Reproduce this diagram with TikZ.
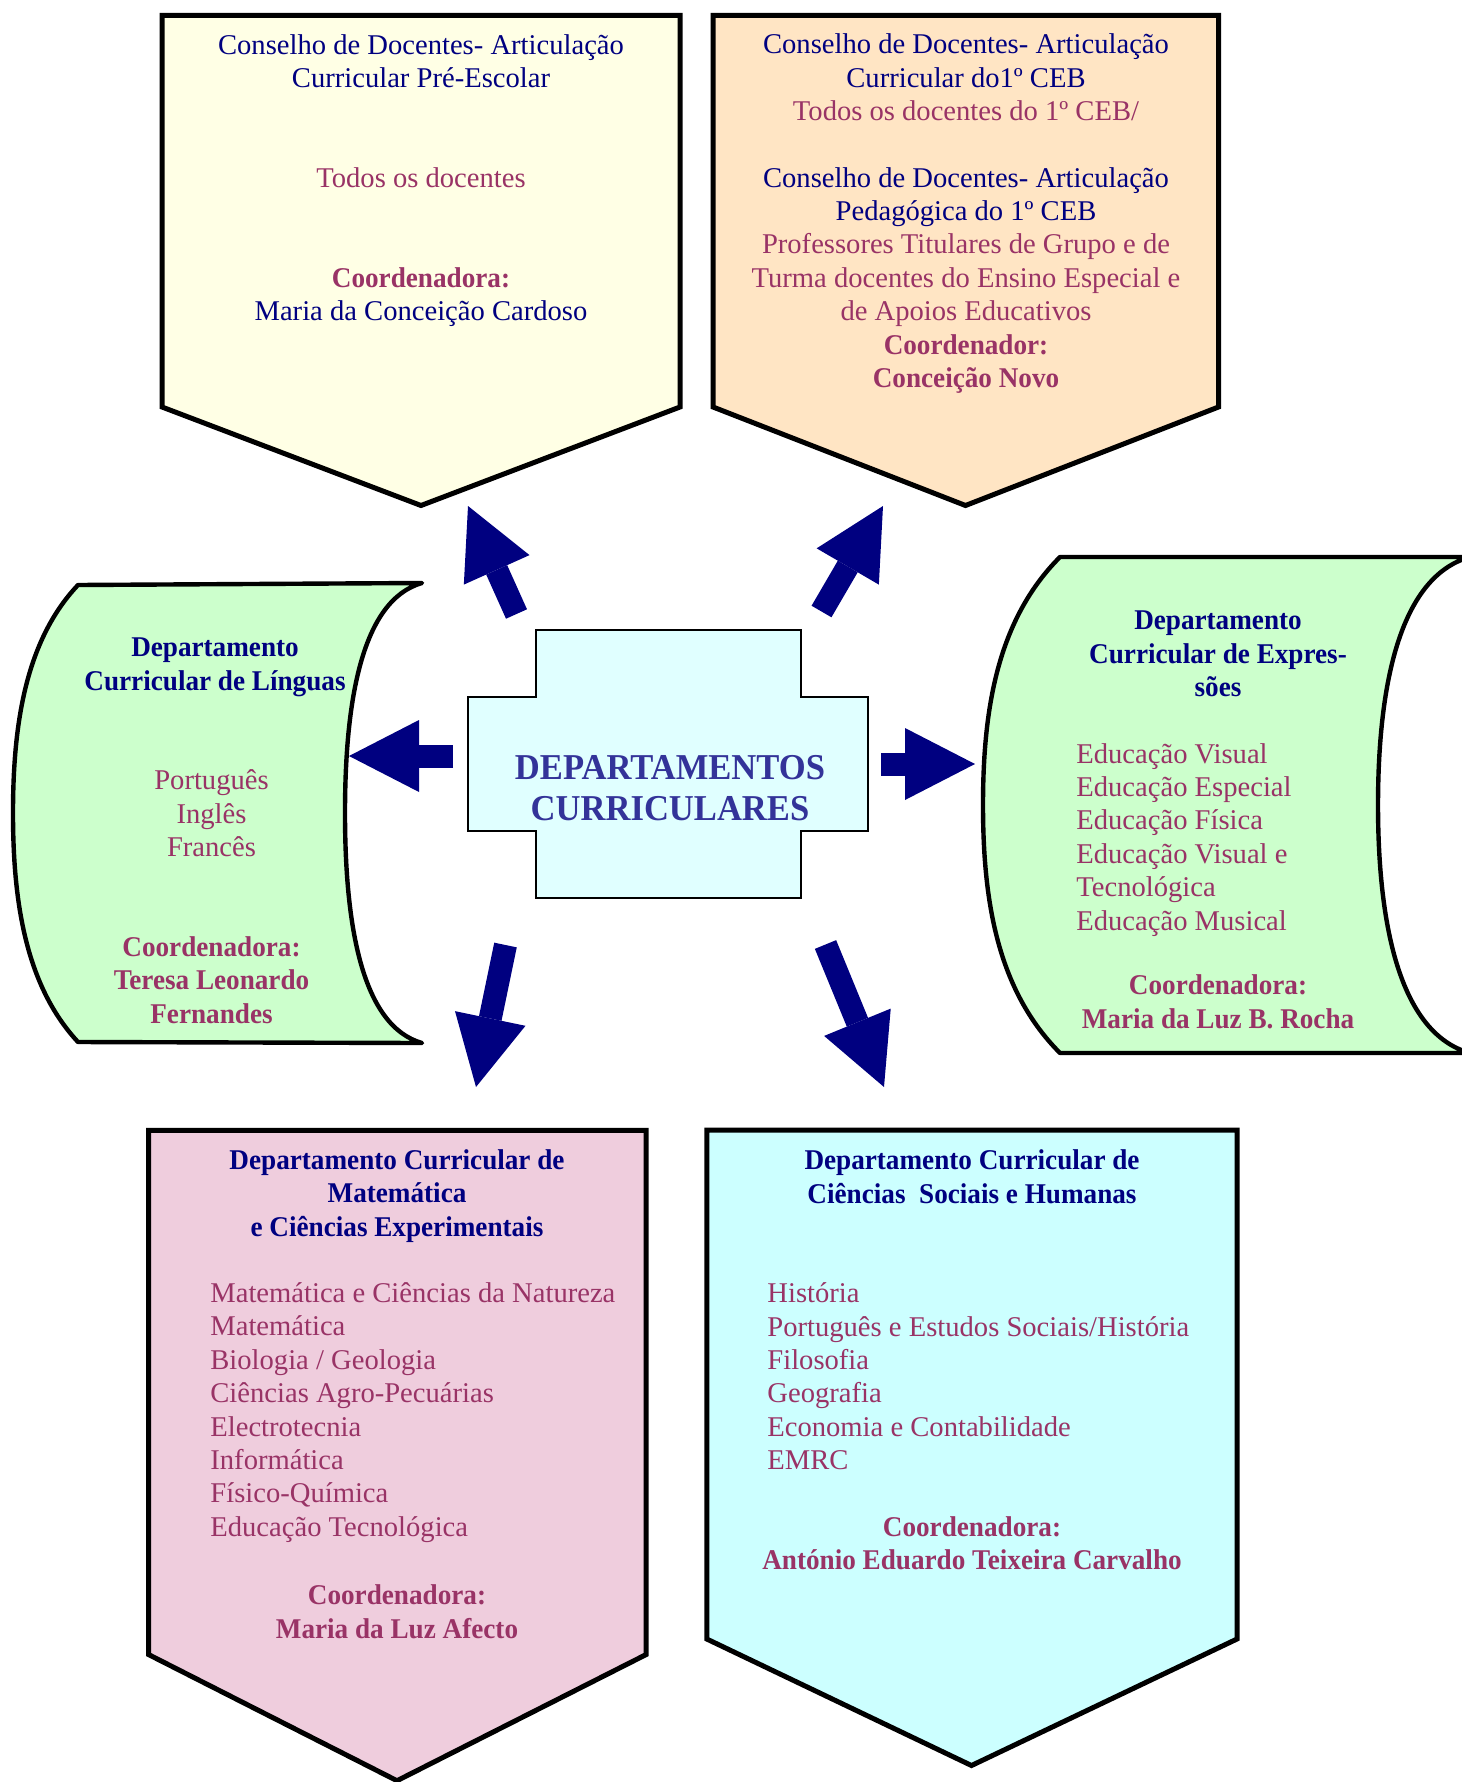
\documentclass[tikz,border=0pt]{standalone}
\usepackage{fontspec}
\setmainfont{Liberation Serif}[BoldFeatures={FakeStretch=0.95}]
\usetikzlibrary{arrows.meta}

\definecolor{navytext}{HTML}{000080}
\definecolor{plumtext}{HTML}{993366}
\definecolor{centretext}{HTML}{333399}
\definecolor{paleyellow}{HTML}{FFFFE5}
\definecolor{paletan}{HTML}{FFE5C4}
\definecolor{palegreen}{HTML}{CCFFCC}
\definecolor{palerose}{HTML}{EFCDDD}
\definecolor{paleaqua}{HTML}{CCFFFF}
\definecolor{lightaqua}{HTML}{E0FFFF}

\begin{document}
\begin{tikzpicture}[x=0.5pt,y=-0.5pt,
                      box/.style={draw=black, line width=2.5pt, line join=miter},
                      scroll/.style={draw=black, line width=2.2pt, line join=round, fill=palegreen},
                      cross/.style={draw=black, line width=1pt, fill=lightaqua},
                      bigarrow/.style={draw=navytext, line width=11.5pt, -{Triangle[length=35pt, width=36pt, line width=0pt]}},
                      txt/.style={inner sep=0pt, anchor=base, align=center, font=\fontsize{14.3}{16.7}\selectfont},
                      navytxt/.style={txt, text=navytext},
                      plumtxt/.style={txt, text=plumtext},
                      boldnavy/.style={navytxt, font=\fontsize{14.3}{16.7}\selectfont\bfseries},
                      boldplum/.style={plumtxt, font=\fontsize{14.3}{16.7}\selectfont\bfseries},
                      listtxt/.style={plumtxt, align=left, anchor=base west},
                      centretxt/.style={inner sep=0pt, anchor=base, align=center, text=centretext, font=\fontsize{18.2}{20.5}\selectfont\bfseries}]
                      \useasboundingbox (0,0) rectangle (1461,1782);
                      \draw[box, fill=paleyellow] (162,15.5) -- (680,15.5) -- (680,407) -- (421,505.5) -- (162,407) -- cycle;
                      \node[navytxt] (preHead) at (421,87.8) {Conselho de Docentes- Articulação\\Curricular Pré-Escolar};
                      \node[plumtxt] (preAll) at (421,187.7) {Todos os docentes};
                      \node[boldplum] (preCoord) at (421,287.5) {Coordenadora:};
                      \node[navytxt] (preName) at (421,320.2) {Maria da Conceição Cardoso};
                      \draw[box, fill=paletan] (713,15.5) -- (1218.5,15.5) -- (1218.5,407) -- (965.5,505.5) -- (713,407) -- cycle;
                      \node[txt] (cebHead) at (966,120.5) {\textcolor{navytext}{Conselho de Docentes- Articulação}\\\textcolor{navytext}{Curricular do1º CEB}\\\textcolor{plumtext}{Todos os docentes do 1º CEB/}};
                      \node[txt] (cebPed) at (966,320.6) {\textcolor{navytext}{Conselho de Docentes- Articulação}\\\textcolor{navytext}{Pedagógica do 1º CEB}\\\textcolor{plumtext}{Professores Titulares de Grupo e de}\\\textcolor{plumtext}{Turma docentes do Ensino Especial e}\\\textcolor{plumtext}{de Apoios Educativos}};
                      \node[boldplum] (cebCoord) at (966,387.4) {Coordenador:\\Conceição Novo};
                      \draw[scroll] (78,585) -- (422,583) .. controls (362,600) and (345,700) .. (345,813) .. controls (345,926) and (362,1026) .. (422,1043) -- (78,1042) .. controls (25,985) and (13,900) .. (13,813) .. controls (13,726) and (25,641) .. cycle;
                      \node[boldnavy] (lingHead) at (215,690) {Departamento\\Curricular de Línguas};
                      \node[plumtxt] (lingList) at (211.5,856.7) {Português\\Inglês\\Francês};
                      \node[boldplum] (lingCoord) at (211.5,1023.3) {Coordenadora:\\Teresa Leonardo\\Fernandes};
                      \draw[scroll] (1060,557) -- (1470,557) .. controls (1398,577) and (1378,690) .. (1378,805) .. controls (1378,920) and (1398,1033) .. (1470,1053) -- (1060,1053) .. controls (997,990) and (983,900) .. (983,805) .. controls (983,710) and (997,620) .. cycle;
                      \node[boldnavy] (exprHead) at (1218,696.7) {Departamento\\Curricular de Expres-\\sões};
                      \node[listtxt] (exprList) at (1076,930.1) {Educação Visual\\Educação Especial\\Educação Física\\Educação Visual e\\Tecnológica\\Educação Musical};
                      \node[boldplum] (exprCoord) at (1218,1028.3) {Coordenadora:\\Maria da Luz B. Rocha};
                      \draw[cross] (536,630) -- (801,630) -- (801,697) -- (868,697) -- (868,831) -- (801,831) -- (801,898) -- (536,898) -- (536,831) -- (468,831) -- (468,697) -- (536,697) -- cycle;
                      \node[centretxt] (centre) at (670,820) {DEPARTAMENTOS\\CURRICULARES};
                      \draw[box, fill=palerose] (148.7,1130.4) -- (646,1130.4) -- (646,1654.6) -- (397,1780.7) -- (148.7,1654.6) -- cycle;
                      \node[boldnavy] (matHead) at (397,1236.1) {Departamento Curricular de\\Matemática\\e Ciências Experimentais};
                      \node[listtxt] (matList) at (210,1536.3) {Matemática e Ciências da Natureza\\Matemática\\Biologia / Geologia\\Ciências Agro-Pecuárias\\Electrotecnia\\Informática\\Físico-Química\\Educação Tecnológica};
                      \node[boldplum] (matCoord) at (397,1638) {Coordenadora:\\Maria da Luz Afecto};
                      \draw[box, fill=paleaqua] (706.8,1130) -- (1237,1130) -- (1237,1639) -- (971.5,1765.5) -- (706.8,1639) -- cycle;
                      \node[boldnavy] (socHead) at (972,1203.1) {Departamento Curricular de\\Ciências\ \ Sociais e Humanas};
                      \node[listtxt] (socList) at (767,1469.7) {História\\Português e Estudos Sociais/História\\Filosofia\\Geografia\\Economia e Contabilidade\\EMRC};
                      \node[boldplum] (socCoord) at (972,1569.8) {Coordenadora:\\António Eduardo Teixeira Carvalho};
                      \coordinate (ulA) at (516.5,614);
                      \coordinate (ulB) at (468,506);
                      \coordinate (urA) at (821.5,611.5);
                      \coordinate (urB) at (883,506);
                      \coordinate (lA) at (453,756);
                      \coordinate (lB) at (349,756);
                      \coordinate (rA) at (881,764);
                      \coordinate (rB) at (975,764);
                      \coordinate (dlA) at (505.5,945);
                      \coordinate (dlB) at (476,1087);
                      \coordinate (drA) at (825.5,944.5);
                      \coordinate (drB) at (884,1087);
                      \draw[bigarrow] (ulA) -- (ulB);
                      \draw[bigarrow] (urA) -- (urB);
                      \draw[bigarrow] (lA) -- (lB);
                      \draw[bigarrow] (rA) -- (rB);
                      \draw[bigarrow] (dlA) -- (dlB);
                      \draw[bigarrow] (drA) -- (drB);
                  \end{tikzpicture}
\end{document}
